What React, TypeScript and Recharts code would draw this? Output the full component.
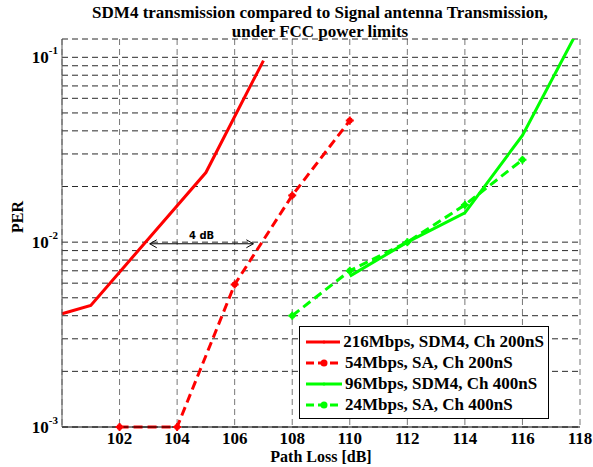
import React from "react";
import {
  CartesianGrid,
  Legend,
  Line,
  LineChart,
  ReferenceLine,
  XAxis,
  YAxis,
} from "recharts";

// Path loss values [dB] and PER
const sdm4Ch200X = [100, 101, 105, 107];
const sdm4Ch200Y = [0.0041, 0.00455, 0.0238, 0.096];

const saCh200X = [102, 104, 106, 108, 110];
const saCh200Y = [0.001, 0.001, 0.0059, 0.0179, 0.0455];

const sdm4Ch400X = [110, 112, 114, 116, 118];
const sdm4Ch400Y = [0.00655, 0.01, 0.0144, 0.0378, 0.147];

const saCh400X = [108, 110, 112, 114, 116];
const saCh400Y = [0.004, 0.007, 0.01, 0.0159, 0.0279];

const xTicks = [102, 104, 106, 108, 110, 112, 114, 116, 118];
const yTicks = [
  0.001, 0.002, 0.003, 0.004, 0.005, 0.006, 0.007, 0.008, 0.009,
  0.01, 0.02, 0.03, 0.04, 0.05, 0.06, 0.07, 0.08, 0.09, 0.1,
];
const decadeLabels: Record<string, string> = { "0.001": "-3", "0.01": "-2", "0.1": "-1" };

const FONT = "'Liberation Serif', 'Times New Roman', serif";
const Y_DOMAIN = [0.001, 0.1256];

const toRows = (xs: number[], ys: number[]) => xs.map((x, i) => ({ x, per: ys[i] }));

type Series = {
  name: string;
  color: string;
  dashed: boolean;
  rows: { x: number; per: number }[];
};

const series: Series[] = [
  { name: "216Mbps, SDM4, Ch 200nS", color: "#ff0000", dashed: false, rows: toRows(sdm4Ch200X, sdm4Ch200Y) },
  { name: "54Mbps, SA, Ch 200nS", color: "#ff0000", dashed: true, rows: toRows(saCh200X, saCh200Y) },
  { name: "96Mbps, SDM4, Ch 400nS", color: "#00ff00", dashed: false, rows: toRows(sdm4Ch400X, sdm4Ch400Y) },
  { name: "24Mbps, SA, Ch 400nS", color: "#00ff00", dashed: true, rows: toRows(saCh400X, saCh400Y) },
];

// star-ish marker like matlab '*' drawn thick
const StarDot = (props: any) => {
  const { cx, cy, stroke } = props;
  if (cx == null || cy == null) return null;
  return (
    <g>
      <circle cx={cx} cy={cy} r={3} fill={stroke} />
      <line x1={cx - 4} y1={cy} x2={cx + 4} y2={cy} stroke={stroke} strokeWidth={2} />
      <line x1={cx} y1={cy - 4} x2={cx} y2={cy + 4} stroke={stroke} strokeWidth={2} />
    </g>
  );
};

const YTick = (props: any) => {
  const { x, y, payload } = props;
  const exp = decadeLabels[String(payload.value)];
  if (!exp) return null;
  return (
    <text x={x} y={y} dy={6} textAnchor="end" fontFamily={FONT} fontWeight={700} fontSize={17} fill="#000">
      10
      <tspan dy={-9} fontSize={11}>{exp}</tspan>
    </text>
  );
};

const XTick = (props: any) => {
  const { x, y, payload } = props;
  return (
    <text x={x} y={y} dy={11} textAnchor="middle" fontFamily={FONT} fontWeight={700} fontSize={17} fill="#000">
      {payload.value}
    </text>
  );
};

// double arrow with "4 dB" label
const DbArrow = (props: any) => {
  const { x1, y1, x2, y2 } = props;
  if (x1 == null) return null;
  const h = 4;
  return (
    <g stroke="#000" strokeWidth={1} fill="none">
      <line x1={x1} y1={y1} x2={x2} y2={y2} />
      <polyline points={`${x1 + h + 3},${y1 - h} ${x1},${y1} ${x1 + h + 3},${y1 + h}`} />
      <polyline points={`${x2 - h - 3},${y2 - h} ${x2},${y2} ${x2 - h - 3},${y2 + h}`} />
      <text
        x={(x1 + x2) / 2}
        y={y1 - 5}
        textAnchor="middle"
        stroke="none"
        fill="#000"
        fontFamily="'DejaVu Sans', Arial, sans-serif"
        fontWeight={700}
        fontSize={10}
      >
        4 dB
      </text>
    </g>
  );
};

const LegendBox = () => (
  <div
    style={{
      border: "1px solid #000",
      background: "#fff",
      padding: "4px 4px 3px 6px",
      fontFamily: FONT,
      fontWeight: 700,
      fontSize: 17,
      lineHeight: "21px",
      color: "#000",
      width: 238,
    }}
  >
    {series.map((s) => (
      <div key={s.name} style={{ display: "flex", alignItems: "center", whiteSpace: "nowrap" }}>
        <svg width={36} height={10} style={{ marginRight: 3 }}>
          <line
            x1={0}
            y1={5}
            x2={36}
            y2={5}
            stroke={s.color}
            strokeWidth={3}
            strokeDasharray={s.dashed ? "8 4" : undefined}
          />
          {s.dashed ? <circle cx={18} cy={5} r={3.5} fill={s.color} /> : <circle cx={18} cy={5} r={1.5} fill={s.color} />}
        </svg>
        <span>{s.name}</span>
      </div>
    ))}
  </div>
);

export default function App() {
  return (
    <div style={{ position: "absolute", left: 0, top: 0, width: 593, height: 467, background: "#fff" }}>
      <LineChart
        width={593}
        height={467}
        margin={{ top: 39, right: 13, bottom: 10, left: 12 }}
        style={{ position: "absolute", left: 0, top: 0 }}
      >
        <CartesianGrid
          yAxisId="main"
          horizontal={false}
          stroke="#777"
          strokeDasharray="6 4"
          strokeWidth={1}
        />
        <CartesianGrid
          yAxisId="main"
          vertical={false}
          stroke="#2a2a2a"
          strokeDasharray="6 4"
          strokeWidth={1}
        />
        <XAxis
          dataKey="x"
          type="number"
          domain={[100, 118]}
          ticks={xTicks}
          allowDuplicatedCategory={false}
          interval={0}
          height={30}
          tickLine={false}
          tickSize={0}
          tickMargin={6}
          tick={<XTick />}
          axisLine={{ stroke: "#000", strokeWidth: 1 }}
          label={{
            value: "Path Loss [dB]",
            position: "insideBottom",
            offset: -5,
            fontFamily: FONT,
            fontWeight: 700,
            fontSize: 16,
            fill: "#000",
          }}
        />
        <YAxis
          yAxisId="main"
          type="number"
          scale="log"
          domain={Y_DOMAIN}
          allowDataOverflow
          ticks={yTicks}
          interval={0}
          width={50}
          tickLine={false}
          tickSize={0}
          tickMargin={4}
          tick={<YTick />}
          axisLine={{ stroke: "#555", strokeWidth: 1 }}
          label={{
            value: "PER",
            angle: -90,
            position: "insideLeft",
            offset: 5,
            fontFamily: FONT,
            fontWeight: 700,
            fontSize: 16,
            fill: "#000",
          }}
        />
        <YAxis yAxisId="free" orientation="right" width={0} type="number" scale="log" domain={Y_DOMAIN} hide />
        {series.map((s, i) => (
          <Line
            key={s.name}
            data={s.rows}
            dataKey="per"
            name={s.name}
            yAxisId={i === 2 ? "main" : "free"}
            type="linear"
            stroke={s.color}
            strokeWidth={3}
            strokeDasharray={s.dashed ? "9 5" : undefined}
            dot={s.dashed ? <StarDot /> : false}
            isAnimationActive={false}
          />
        ))}
        <ReferenceLine
          yAxisId="free"
          segment={[
            { x: 103.05, y: 0.0098 },
            { x: 106.65, y: 0.0098 },
          ]}
          shape={<DbArrow />}
        />
        <Legend
          layout="vertical"
          align="center"
          verticalAlign="middle"
          content={<LegendBox />}
          wrapperStyle={{ left: 299, top: 326, width: 250 }}
        />
      </LineChart>
      <div
        style={{
          position: "absolute",
          left: 0,
          top: 3,
          width: 640,
          textAlign: "center",
          fontFamily: FONT,
          fontWeight: 700,
          fontSize: 17,
          lineHeight: "19px",
          color: "#000",
        }}
      >
        SDM4 transmission compared to Signal antenna Transmission,
        <br />
        under FCC power limits
      </div>
    </div>
  );
}
